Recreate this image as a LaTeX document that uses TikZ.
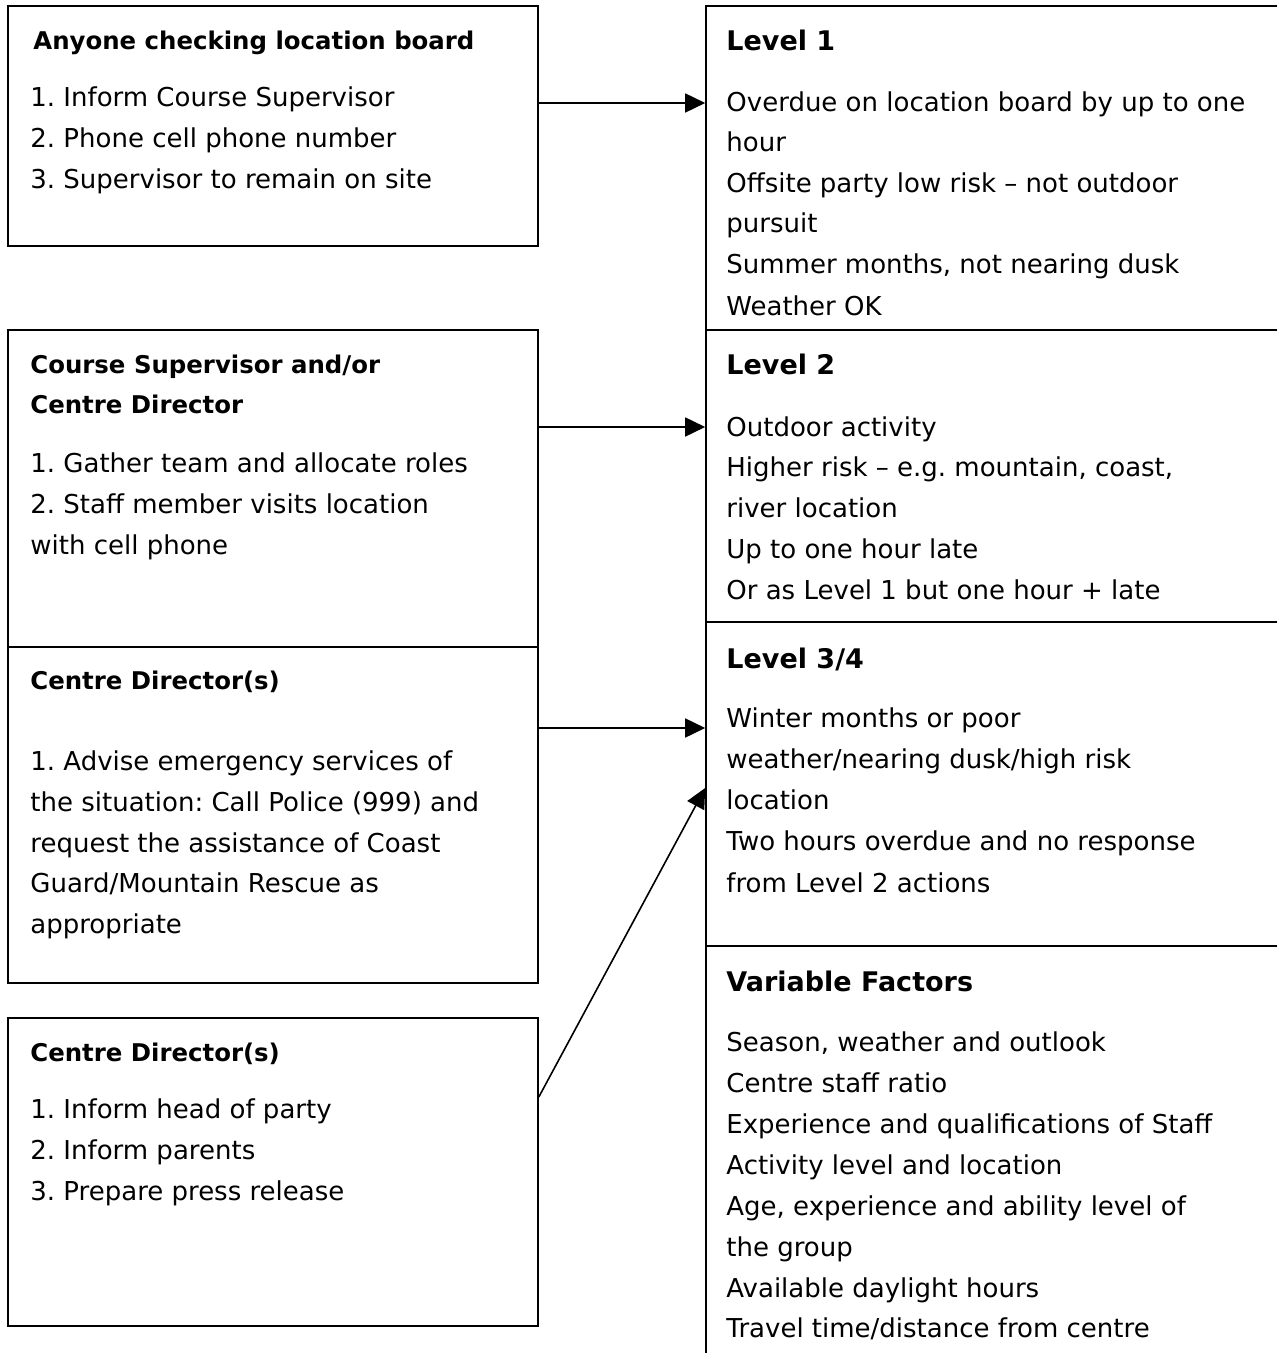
\documentclass[tikz,border=0pt]{standalone}
\usepackage{fontspec}
\setmainfont{DejaVu Sans}
\usetikzlibrary{arrows.meta,fit}
\frenchspacing
\begin{document}
\begin{tikzpicture}[x=0.5pt,y=-0.5pt,
  box/.style={draw,line width=0.8pt,rectangle,inner sep=0pt},
  body/.style={anchor=base west,inner sep=0pt,font=\fontsize{13}{15}\selectfont},
  ltitle/.style={anchor=base west,inner sep=0pt,font=\fontsize{12.2}{14}\selectfont\bfseries},
  rtitle/.style={anchor=base west,inner sep=0pt,font=\fontsize{13.5}{16}\selectfont\bfseries},
  arr/.style={line width=0.8pt,-{Triangle[length=10pt,width=9.5pt]}}]
\useasboundingbox (0,0) rectangle (1277,1353);
% left boxes
\node[box,fit={(8,6)(538,246)}] (A) {};
\node[box,fit={(8,330)(538,647)}] (B) {};
\node[box,fit={(8,647)(538,983)}] (C) {};
\node[box,fit={(8,1018)(538,1326)}] (D) {};
% right column
\node[box,fit={(706,6)(1295,330)}] (L1) {};
\node[box,fit={(706,330)(1295,622)}] (L2) {};
\node[box,fit={(706,622)(1295,946)}] (L3) {};
\node[box,fit={(706,946)(1295,1370)}] (VF) {};
% texts box A
\node[ltitle] (At) at (33,50) {Anyone checking location board};
\foreach \y/\t [count=\i] in {107/{1. Inform Course Supervisor},148/{2. Phone cell phone number},189/{3. Supervisor to remain on site}}
  \node[body] (A\i) at (30,\y) {\t};
% box B
\node[ltitle] (Bt1) at (30,373) {Course Supervisor and/or};
\node[ltitle] (Bt2) at (30,413) {Centre Director};
\foreach \y/\t [count=\i] in {472/{1. Gather team and allocate roles},513/{2. Staff member visits location},554/{with cell phone}}
  \node[body] (B\i) at (30,\y) {\t};
% box C
\node[ltitle] (Ct) at (30,689) {Centre Director(s)};
\foreach \y/\t [count=\i] in {770/{1. Advise emergency services of},811/{the situation: Call Police (999) and},852/{request the assistance of Coast},892/{Guard/Mountain Rescue as},933/{appropriate}}
  \node[body] (C\i) at (30,\y) {\t};
% box D
\node[ltitle] (Dt) at (30,1061) {Centre Director(s)};
\foreach \y/\t [count=\i] in {1118/{1. Inform head of party},1159/{2. Inform parents},1200/{3. Prepare press release}}
  \node[body] (D\i) at (30,\y) {\t};
% Level 1
\node[rtitle] (L1t) at (726,51) {Level 1};
\foreach \y/\t [count=\i] in {112/{Overdue on location board by up to one},152/{hour},193/{Offsite party low risk – not outdoor},233/{pursuit},274/{Summer months, not nearing dusk},315/{Weather OK}}
  \node[body] (L1\i) at (726,\y) {\t};
% Level 2
\node[rtitle] (L2t) at (726,374) {Level 2};
\foreach \y/\t [count=\i] in {436/{Outdoor activity},476/{Higher risk – e.g. mountain, coast,},517/{river location},558/{Up to one hour late},599/{Or as Level 1 but one hour + late}}
  \node[body] (L2\i) at (726,\y) {\t};
% Level 3/4
\node[rtitle] (L3t) at (726,668) {Level 3/4};
\foreach \y/\t [count=\i] in {727/{Winter months or poor},768/{weather/nearing dusk/high risk},809/{location},850/{Two hours overdue and no response},892/{from Level 2 actions}}
  \node[body] (L3\i) at (726,\y) {\t};
% Variable factors
\node[rtitle] (VFt) at (726,991) {Variable Factors};
\foreach \y/\t [count=\i] in {1051/{Season, weather and outlook},1092/{Centre staff ratio},1133/{Experience and qualifications of Staff},1174/{Activity level and location},1215/{Age, experience and ability level of},1256/{the group},1297/{Available daylight hours},1337/{Travel time/distance from centre}}
  \node[body] (VF\i) at (726,\y) {\t};
% connectors
\draw[arr] (A.east |- 0,103) -- (L1.west |- 0,103);
\draw[arr] (B.east |- 0,427) -- (L2.west |- 0,427);
\draw[arr] (C.east |- 0,728) -- (L3.west |- 0,728);
\draw[arr] (D.east |- 0,1097) -- (L3.west |- 0,788);
\end{tikzpicture}
\end{document}
